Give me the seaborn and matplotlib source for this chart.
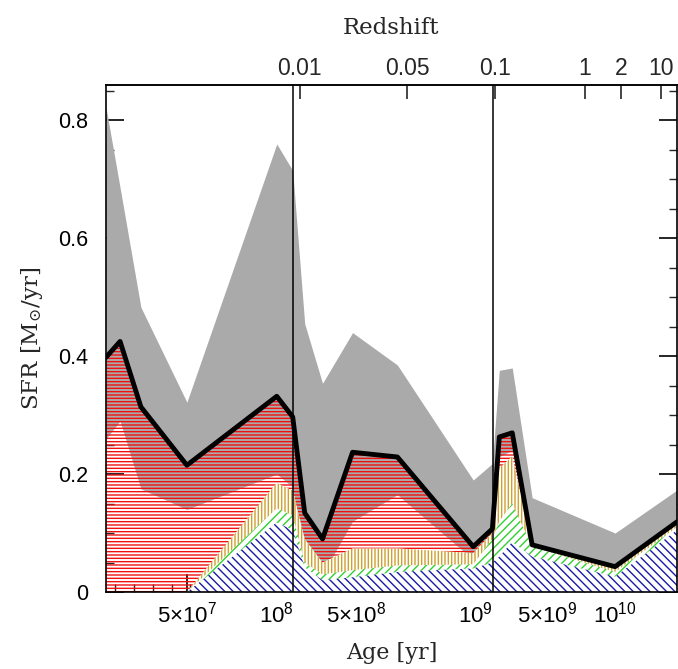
import numpy as np
import pandas as pd
import matplotlib
matplotlib.use("Agg")
import matplotlib.pyplot as plt
import seaborn as sns
from matplotlib.ticker import FixedLocator, MultipleLocator

# ---- data (positions along the custom age axis, SFR values in Msun/yr) ----
age_pos = [-0.5, 0.25, 1.36, 3.81, 8.60, 9.45, 10.09, 11.04, 12.64, 15.03,
           19.07, 20.09, 20.46, 21.15, 22.21, 26.63, 29.93]
sfr_total = [0.398, 0.425, 0.314, 0.215, 0.332, 0.297, 0.134, 0.090, 0.237,
             0.229, 0.077, 0.107, 0.263, 0.270, 0.080, 0.043, 0.119]
band_upper = [0.822, 0.686, 0.483, 0.322, 0.760, 0.715, 0.455, 0.354, 0.440,
              0.385, 0.190, 0.218, 0.376, 0.380, 0.160, 0.100, 0.173]
band_lower = [0.260, 0.290, 0.175, 0.140, 0.200, 0.178, 0.050, 0.030, 0.120,
              0.165, 0.055, 0.075, 0.230, 0.240, 0.070, 0.035, 0.105]
sfr_yellow = [0.0, 0.0, 0.0, 0.0, 0.185, 0.172, 0.090, 0.050, 0.074, 0.074,
              0.066, 0.100, 0.210, 0.230, 0.083, 0.043, 0.115]
sfr_green = [0.0, 0.0, 0.0, 0.0, 0.142, 0.130, 0.050, 0.030, 0.037, 0.045,
             0.047, 0.090, 0.120, 0.150, 0.077, 0.034, 0.110]
sfr_blue = [0.0, 0.0, 0.0, 0.0, 0.118, 0.105, 0.042, 0.020, 0.025, 0.034,
            0.040, 0.050, 0.060, 0.085, 0.060, 0.026, 0.105]

age_tick_pos = [3.81, 8.60, 12.85, 19.18, 23.0, 26.6]
age_tick_labels = [r"$5{\times}10^{7}$", r"$10^{8}$", r"$5{\times}10^{8}$",
                   r"$10^{9}$", r"$5{\times}10^{9}$", r"$10^{10}$"]
z_tick_pos = [9.82, 15.56, 20.24, 25.03, 26.95, 29.07]
z_tick_labels = ["0.01", "0.05", "0.1", "1", "2", "10"]
divider_pos = [9.45, 20.14]

# ---- style ----
sns.set_theme(style="ticks")
plt.rcParams["font.family"] = ["Liberation Sans", "DejaVu Sans"]
plt.rcParams["mathtext.fontset"] = "custom"
plt.rcParams["mathtext.rm"] = "Liberation Sans"
plt.rcParams["mathtext.it"] = "Liberation Sans:italic"
plt.rcParams["mathtext.bf"] = "Liberation Sans:bold"
plt.rcParams["mathtext.default"] = "regular"
plt.rcParams["hatch.linewidth"] = 1.0

fig = plt.figure(figsize=(6.78, 6.69), dpi=100)
ax = fig.add_axes([106 / 678, 1 - 592 / 669, 571 / 678, (592 - 85) / 669])

df = pd.DataFrame({"age": age_pos, "total": sfr_total, "upper": band_upper,
                   "lower": band_lower, "yellow": sfr_yellow,
                   "green": sfr_green, "blue": sfr_blue})

ax.fill_between(df["age"], df["lower"], df["upper"], color="#aaaaaa",
                lw=0, zorder=1)
ax.fill_between(df["age"], 0, df["total"], facecolor="none",
                edgecolor="#f01010", hatch="-----", lw=0, zorder=2)
ax.fill_between(df["age"], 0, df["yellow"], facecolor="white",
                edgecolor="#d0a030", hatch="|||||", lw=0, zorder=3)
ax.fill_between(df["age"], 0, df["green"], facecolor="white",
                edgecolor="#30d030", hatch="////", lw=0, zorder=4)
ax.fill_between(df["age"], 0, df["blue"], facecolor="white",
                edgecolor="#1a1aa8", hatch="\\\\\\\\", lw=0, zorder=5)

for xv in divider_pos:
    ax.axvline(xv, color="black", lw=1.1, zorder=6)

sns.lineplot(data=df, x="age", y="total", color="black", lw=3.5,
             ax=ax, zorder=7, sort=False)

ax.set_xlim(-0.5, 29.93)
ax.set_ylim(0, 0.86)

ax.xaxis.set_major_locator(FixedLocator(age_tick_pos))
ax.set_xticklabels(age_tick_labels)
ax.xaxis.set_minor_locator(FixedLocator(np.arange(0, 30, 1)))
ax.yaxis.set_major_locator(FixedLocator([0, 0.2, 0.4, 0.6, 0.8]))
ax.set_yticklabels(["0", "0.2", "0.4", "0.6", "0.8"])
ax.yaxis.set_minor_locator(MultipleLocator(0.05))

ax.tick_params(axis="both", which="major", direction="in", length=13,
               width=1.2, colors="black")
ax.tick_params(axis="x", which="major", labelsize=16, pad=7)
ax.tick_params(axis="y", which="major", labelsize=15.5, pad=13)
ax.tick_params(axis="both", which="minor", direction="in", length=6,
               width=1.0)
ax.tick_params(axis="y", which="both", right=True)
ax.tick_params(axis="x", which="both", top=False)

for s in ax.spines.values():
    s.set_linewidth(1.2)
    s.set_color("black")
    s.set_zorder(8)

ax.set_xlabel("Age [yr]", family="DejaVu Serif", fontsize=16, labelpad=10)
ax.set_ylabel(r"SFR [M$_{\odot}$/yr]", family="DejaVu Serif", fontsize=16.5,
              labelpad=9)

sec = ax.secondary_xaxis("top")
sec.set_xticks(z_tick_pos)
sec.set_xticklabels(z_tick_labels)
sec.tick_params(axis="x", which="major", direction="in", length=10,
                width=1.2, labelsize=16.5, pad=3.5)
sec.set_xlabel("Redshift", family="DejaVu Serif", fontsize=16.5,
               labelpad=17)
sec.spines["top"].set_linewidth(1.2)

fig.savefig("out.png", dpi=100)
